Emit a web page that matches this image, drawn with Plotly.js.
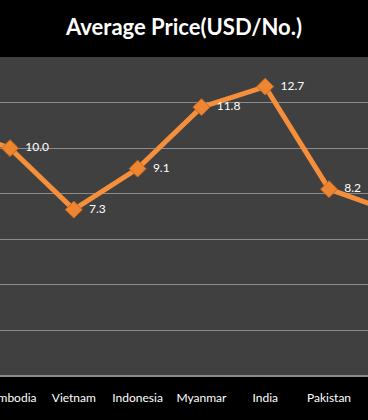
<!DOCTYPE html>
<html>
<head>
<meta charset="utf-8">
<script src="https://cdn.plot.ly/plotly-3.0.1.min.js"></script>
<style>
html,body{margin:0;padding:0;background:#000;}
#chart{width:368px;height:420px;}
</style>
</head>
<body>
<div id="chart"></div>
<script>
var categories = ["Thailand", "Cambodia", "Vietnam", "Indonesia", "Myanmar", "India", "Pakistan", "Bangladesh"];
var avgPrice = [11.0, 10.0, 7.3, 9.1, 11.8, 12.7, 8.2, 7.2];
// first and last points lie outside the visible window; their labels are not shown
var shownLabel = [false, true, true, true, true, true, true, false];
var labels = avgPrice.map(function(v, i){ return shownLabel[i] ? "\u00a0\u00a0" + v.toFixed(1) : ""; });

var trace = {
  type: "scatter",
  mode: "lines+markers+text",
  x: categories,
  y: avgPrice,
  text: labels,
  textposition: "middle right",
  textfont: {family: "Lato, 'Open Sans', sans-serif", size: 12, color: "#ffffff"},
  line: {color: "#F58F3C", width: 5},
  marker: {symbol: "diamond", size: 13, color: "#EE8530", line: {color: "#C9691E", width: 1}},
  cliponaxis: true,
  hoverinfo: "skip"
};

var layout = {
  width: 368,
  height: 420,
  paper_bgcolor: "#000000",
  plot_bgcolor: "#404040",
  margin: {l: 0, r: 0, t: 57, b: 44, pad: 0},
  showlegend: false,
  title: {
    text: "<b>Average Price(USD/No.)</b>",
    font: {family: "Lato, 'Open Sans', sans-serif", size: 22, color: "#ffffff"},
    x: 0.5, xanchor: "center",
    y: 1 - 27/420, yanchor: "middle", yref: "container"
  },
  xaxis: {
    type: "category",
    range: [0.843, 6.611],
    showgrid: false,
    showline: false,
    zeroline: false,
    ticks: "",
    ticklabelstandoff: 13,
    tickfont: {family: "Lato, 'Open Sans', sans-serif", size: 12, color: "#ffffff"},
    fixedrange: true
  },
  yaxis: {
    range: [0, 14],
    dtick: 2,
    showgrid: true,
    gridcolor: "#8C8C8C",
    gridwidth: 1,
    showticklabels: false,
    zeroline: true,
    zerolinecolor: "#8C8C8C",
    zerolinewidth: 2,
    showline: false,
    ticks: "",
    fixedrange: true
  }
};

Plotly.newPlot("chart", [trace], layout, {staticPlot: true, displayModeBar: false});
</script>
</body>
</html>
